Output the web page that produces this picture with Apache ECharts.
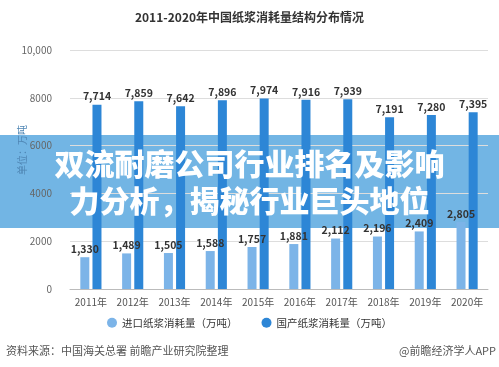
<!DOCTYPE html>
<html>
<head>
<meta charset="utf-8">
<script src="https://cdn.jsdelivr.net/npm/echarts@6/dist/echarts.min.js"></script>
<style>html,body{margin:0;padding:0;background:#fff}#c{width:499px;height:367px}</style>
</head>
<body>
<div id="c"></div>
<script>
const categories = ['2011年','2012年','2013年','2014年','2015年','2016年','2017年','2018年','2019年','2020年'];
const importedPulp = [1330,1489,1505,1588,1757,1881,2112,2196,2409,2805];
const domesticPulp = [7714,7859,7642,7896,7974,7916,7939,7191,7280,7395];
const seriesNames = ['进口纸浆消耗量（万吨）','国产纸浆消耗量（万吨）'];
const titleText = '2011-2020年中国纸浆消耗量结构分布情况';
const unitText = '单位：万吨';
const bannerText = '双流耐磨公司行业排名及影响\n力分析，揭秘行业巨头地位';
const sourceText = '资料来源：中国海关总署 前瞻产业研究院整理';
const creditText = '@前瞻经济学人APP';

const font = '"Noto Sans CJK SC", "Microsoft YaHei", sans-serif';
const chart = echarts.init(document.getElementById('c'), null, {renderer: 'canvas'});
const fmt = v => v.toLocaleString('en-US');
const labelStyle = {show: true, position: 'top', distance: 3, color: '#333', fontSize: 10.5, fontWeight: 'bold', fontFamily: font, formatter: p => fmt(p.value)};
chart.setOption({
  animation: false,
  backgroundColor: '#fff',
  textStyle: {fontFamily: font},
  title: {text: titleText, left: 'center', top: 6, textStyle: {fontSize: 12, fontWeight: 'bold', color: '#333', fontFamily: font}},
  legend: {bottom: 34, left: 'center', itemGap: 24, icon: 'circle', itemWidth: 10, itemHeight: 10,
    textStyle: {fontSize: 10.5, color: '#333', fontFamily: font}, data: seriesNames},
  grid: {left: 70, right: 11, top: 50, bottom: 78},
  xAxis: {type: 'category', data: categories,
    axisLine: {lineStyle: {color: '#bbb'}}, axisTick: {alignWithLabel: true, lineStyle: {color: '#bbb'}},
    axisLabel: {color: '#555', fontSize: 10, margin: 8, interval: 0}},
  yAxis: {type: 'value', min: 0, max: 10000, interval: 2000,
    axisLine: {show: false}, axisTick: {show: false},
    splitLine: {lineStyle: {color: '#ddd'}},
    axisLabel: {color: '#666', fontSize: 10, margin: 18, formatter: v => v >= 10000 ? fmt(v) : String(v)}},
  series: [
    {name: seriesNames[0], type: 'bar', data: importedPulp, barWidth: 9, barGap: '35%', itemStyle: {color: '#7cb4e8'}, label: labelStyle, z: 3},
    {name: seriesNames[1], type: 'bar', data: domesticPulp, barWidth: 9, itemStyle: {color: '#2d86d6'}, label: labelStyle, z: 3}
  ],
  graphic: [
    {type: 'rect', left: 0, top: 135, z: -1, shape: {width: 499, height: 93}, style: {fill: '#72b5e4'}},
    {type: 'text', x: 22, y: 150, rotation: Math.PI / 2, z: 5,
      style: {text: unitText, fill: '#4f86b4', font: '10px ' + font, align: 'center', verticalAlign: 'middle'}},
    {type: 'text', left: 'center', top: 145, z: 100,
      style: {text: bannerText, fill: '#fff', font: '900 30px ' + font, textAlign: 'center', lineHeight: 37,
        shadowColor: 'rgba(0,0,0,0.15)', shadowBlur: 2}},
    {type: 'text', left: 6, top: 345, style: {text: sourceText, fill: '#555', font: '11px ' + font}},
    {type: 'text', right: 3, top: 345, style: {text: creditText, fill: '#555', font: '11px ' + font}}
  ]
});
</script>
</body>
</html>
